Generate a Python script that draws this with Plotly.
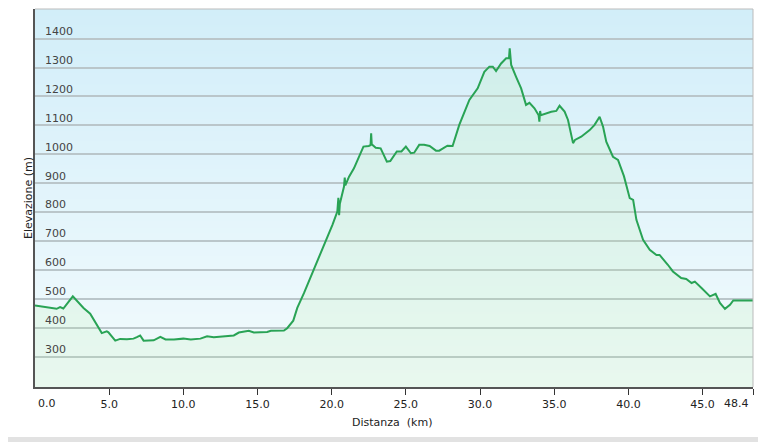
import base64
import struct
import zlib

import plotly.graph_objects as go

# profilo altimetrico (km, m)
distanza = [0, 1.46, 1.69, 1.91, 2.55, 3.27, 3.72, 4.5, 4.84, 4.95, 5.41, 5.74, 6.2, 6.64, 6.87,
            7.09, 7.32, 8.0, 8.45, 8.8, 9.37, 10.0, 10.5, 11.15, 11.6, 12.05, 13.4, 13.74, 14.41,
            14.75, 15.65, 15.9, 16.78, 17.0, 17.41, 17.68, 18.13, 18.7, 19.48, 20.05, 20.38, 20.45,
            20.5, 20.55, 20.83, 20.88, 20.92, 21.17, 21.5, 22.14, 22.5, 22.62, 22.66, 22.7, 22.97,
            23.3, 23.72, 23.95, 24.39, 24.7, 25.0, 25.34, 25.56, 25.9, 26.23, 26.6, 27.03, 27.25,
            27.8, 28.15, 28.6, 29.28, 29.84, 30.29, 30.63, 30.86, 31.08, 31.42, 31.76, 31.95, 32.0,
            32.1, 32.43, 32.77, 33.1, 33.33, 33.67, 33.95, 34.0, 34.05, 34.1, 34.46, 34.8, 35.14,
            35.36, 35.7, 35.93, 36.27, 36.4, 36.82, 37.39, 37.72, 38.06, 38.29, 38.51, 38.96, 39.3,
            39.7, 40.09, 40.32, 40.54, 40.99, 41.44, 41.89, 42.1, 42.66, 43.0, 43.56, 43.9, 44.26,
            44.48, 44.93, 45.5, 45.88, 46.17, 46.51, 46.85, 47.07, 48.4]
elevazione = [478, 467, 473, 468, 510, 470, 450, 383, 389, 386, 357, 363, 362, 364, 369,
              375, 357, 358, 370, 361, 361, 364, 361, 364, 372, 369, 375, 385, 391,
              385, 387, 391, 392, 400, 426, 470, 521, 590, 688, 757, 803, 850,
              790, 830, 889, 920, 893, 923, 952, 1027, 1029, 1032, 1073, 1035, 1023,
              1021, 975, 977, 1010, 1010, 1027, 1004, 1006, 1033, 1033, 1029, 1013, 1013,
              1030, 1029, 1102, 1188, 1228, 1285, 1303, 1303, 1288, 1314, 1332, 1332, 1366,
              1309, 1268, 1228, 1171, 1178, 1159, 1135, 1113, 1150, 1135, 1142, 1147, 1150,
              1168, 1148, 1119, 1039, 1050, 1061, 1084, 1102, 1130, 1096, 1044, 992, 981,
              925, 849, 843, 774, 705, 671, 653, 653, 619, 596, 573, 570, 556,
              561, 539, 510, 519, 487, 467, 481, 496, 496]

x_ticks = [0, 5, 10, 15, 20, 25, 30, 35, 40, 45, 48.4]
x_labels = ['0.0', '5.0', '10.0', '15.0', '20.0', '25.0', '30.0', '35.0', '40.0', '45.0', '48.4']
y_ticks = [300, 400, 500, 600, 700, 800, 900, 1000, 1100, 1200, 1300, 1400]

y_min, y_max = 197, 1502


def gradient_png(top, bottom, h=256):
    # png 1 x h con sfumatura verticale
    rows = b''
    for i in range(h):
        t = i / (h - 1)
        px = bytes(int(round(a + (b - a) * t)) for a, b in zip(top, bottom))
        rows += b'\x00' + px

    def chunk(tag, data):
        return (struct.pack('>I', len(data)) + tag + data
                + struct.pack('>I', zlib.crc32(tag + data) & 0xffffffff))

    png = (b'\x89PNG\r\n\x1a\n'
           + chunk(b'IHDR', struct.pack('>IIBBBBB', 1, h, 8, 2, 0, 0, 0))
           + chunk(b'IDAT', zlib.compress(rows))
           + chunk(b'IEND', b''))
    return 'data:image/png;base64,' + base64.b64encode(png).decode()


fig = go.Figure()

fig.add_scatter(
    x=distanza, y=elevazione,
    yaxis='y2',
    mode='lines',
    line=dict(color='#29a355', width=2),
    fill='tozeroy',
    fillcolor='rgba(182,238,160,0.16)',
    showlegend=False
)

# sfondo sfumato sotto la griglia
fig.add_layout_image(
    source=gradient_png((210, 238, 249), (243, 251, 253)),
    xref='x', yref='y',
    x=0, y=y_max, sizex=48.4, sizey=y_max - y_min,
    xanchor='left', yanchor='top',
    sizing='stretch', layer='below'
)

# la pagina ha 8px di margine: la figura e' piu' piccola di 8px
fig.update_layout(
    width=758, height=434,
    margin=dict(l=27, r=13, t=1, b=55),
    paper_bgcolor='white',
    plot_bgcolor='rgba(0,0,0,0)',
    font=dict(family='DejaVu Sans', size=11, color='#222222'),
    showlegend=False
)

# primo e ultimo valore allineati dentro l'asse (come annotazioni)
tick_text = [''] + x_labels[1:-1] + ['']

fig.update_layout(
    xaxis=dict(
        range=[0, 48.4],
        tickvals=x_ticks, ticktext=tick_text,
        ticks='outside', ticklen=6, tickcolor='#333333', tickwidth=1,
        showgrid=False, zeroline=False,
        showline=True, linecolor='#555555', linewidth=2,
        automargin=False,
    ),
    yaxis=dict(
        range=[y_min, y_max],
        tickvals=y_ticks,
        showticklabels=False, ticks='',
        showgrid=True, gridcolor='#bac6ca', gridwidth=1.5,
        zeroline=False,
        showline=True, linecolor='#555555', linewidth=2,
        automargin=False,
    ),
    yaxis2=dict(
        range=[y_min, y_max],
        overlaying='y', anchor='free', position=0, side='left',
        tickvals=y_ticks,
        ticklabelposition='inside top', ticklabelstandoff=6,
        ticks='', showgrid=False, zeroline=False, showline=False,
        automargin=False,
    ),
)

fig.add_annotation(text=x_labels[0], xref='x', yref='paper', x=x_ticks[0], y=-16 / 378,
                   xanchor='left', yanchor='middle', xshift=1, showarrow=False)
fig.add_annotation(text=x_labels[-1], xref='x', yref='paper', x=x_ticks[-1], y=-16 / 378,
                   xanchor='right', yanchor='middle', xshift=-2, showarrow=False)

# titoli degli assi
fig.add_annotation(text='Elevazione (m)', xref='paper', yref='paper',
                   x=-7 / 718, y=0.5, textangle=-90, showarrow=False,
                   xanchor='center', yanchor='middle', font=dict(size=11))
fig.add_annotation(text='Distanza  (km)', xref='paper', yref='paper',
                   x=0.497, y=-35 / 378, showarrow=False,
                   xanchor='center', yanchor='middle', font=dict(size=11))

# bordo superiore e destro dell'area del grafico
fig.add_shape(type='line', xref='paper', yref='paper', x0=0, x1=1, y0=1, y1=1,
              line=dict(color='#bbbbbb', width=1))
fig.add_shape(type='line', xref='paper', yref='paper', x0=1, x1=1, y0=0, y1=1,
              line=dict(color='#bbbbbb', width=1))

# cornice della pagina
fig.add_shape(type='rect', xref='paper', yref='paper',
              x0=(760 - 35) / 718, x1=(766 - 35) / 718, y0=-55 / 378, y1=10 / 378,
              line=dict(width=0), fillcolor='#eeeeee', layer='below')
fig.add_shape(type='rect', xref='paper', yref='paper',
              x0=-27 / 718, x1=(760 - 35) / 718, y0=-55 / 378, y1=-50 / 378,
              line=dict(width=0), fillcolor='#e2e2e2', layer='below')

fig.write_html('out.html')
